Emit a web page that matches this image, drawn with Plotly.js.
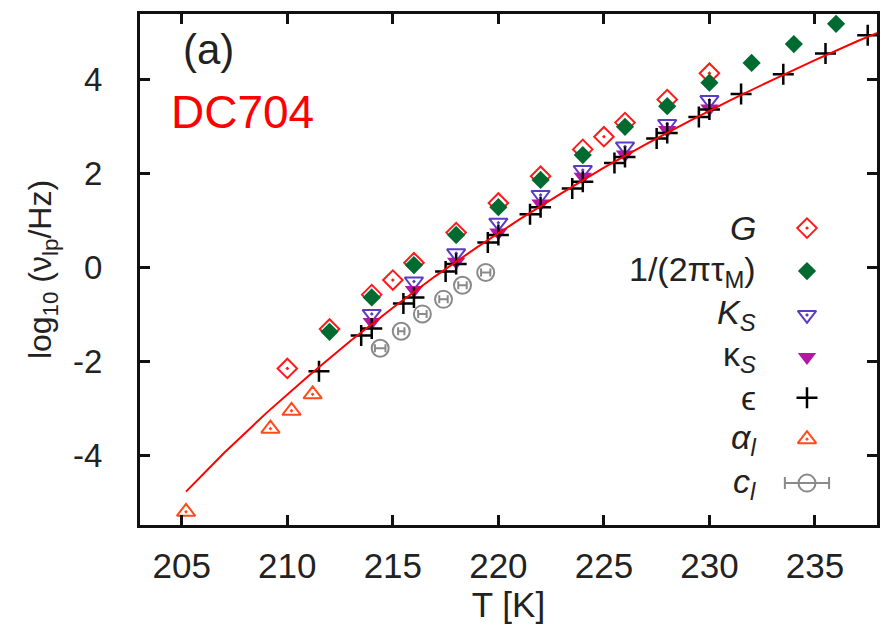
<!DOCTYPE html>
<html>
<head>
<meta charset="utf-8">
<script src="https://cdn.plot.ly/plotly-3.0.1.min.js"></script>
<style>html,body{margin:0;padding:0;background:#fff;}#plot{width:881px;height:628px;}</style>
</head>
<body>
<div id="plot"></div>
<script>
// ---- data ----
const T_G = [210, 212, 214, 215, 216, 218, 220, 222, 224, 225, 226, 228, 230];
const v_G = [-2.15, -1.31, -0.58, -0.27, 0.10, 0.74, 1.37, 1.94, 2.51, 2.78, 3.08, 3.57, 4.13];

const T_tauM = [212, 214, 216, 218, 220, 222, 224, 226, 228, 230, 232, 234, 236];
const v_tauM = [-1.37, -0.64, 0.05, 0.69, 1.28, 1.86, 2.39, 2.99, 3.43, 3.93, 4.35, 4.75, 5.18];

const T_KS = [214, 216, 218, 220, 222, 224, 226, 228, 230];
const v_KS = [-0.99, -0.30, 0.30, 0.95, 1.54, 2.07, 2.57, 3.05, 3.56];

const T_kS = [214, 216, 218, 220, 222, 224, 226, 228, 230];
const v_kS = [-1.16, -0.48, 0.12, 0.74, 1.36, 1.93, 2.40, 2.92, 3.38];

const T_eps = [211.5, 213.5, 214, 215.5, 216, 217.5, 218, 219.5, 220, 221.5, 222, 223.5, 224, 225.5, 226, 227.5, 228, 229.5, 230, 231.5, 233.5, 235.5, 237.5];
const v_eps = [-2.21, -1.45, -1.30, -0.77, -0.64, -0.09, 0.07, 0.53, 0.69, 1.13, 1.28, 1.68, 1.82, 2.22, 2.35, 2.74, 2.86, 3.20, 3.36, 3.69, 4.11, 4.55, 4.94];

const T_alpha = [205.2, 209.2, 210.2, 211.2];
const v_alpha = [-5.20, -3.43, -3.05, -2.70];

const T_c = [214.4, 215.4, 216.4, 217.4, 218.3, 219.4];
const v_c = [-1.72, -1.36, -0.99, -0.68, -0.38, -0.11];
const dT_c = [0.25, 0.15, 0.2, 0.2, 0.2, 0.22];

const T_fit = [205.2, 207, 209, 211, 213, 215, 217, 219, 221, 223, 225, 227, 229, 231, 233, 235, 237, 238.5];
const v_fit = [-4.77, -3.95, -3.10, -2.31, -1.56, -0.86, -0.19, 0.43, 1.02, 1.58, 2.12, 2.62, 3.10, 3.56, 3.99, 4.41, 4.81, 5.09];

const xTicks = [205, 210, 215, 220, 225, 230, 235];
const xTickText = ['205', '210', '215', '220', '225', '230', '235'];
const yTicks = [-4, -2, 0, 2, 4];
const yTickText = ['-4', '-2', '0', '2', '4'];

const legendLabels = ['<i>G</i>', '1/(2πτ<sub>M</sub>)', '<i>K<sub>S</sub></i>', 'κ<sub><i>S</i></sub>', 'ϵ', '<i>α<sub>l</sub></i>', '<i>c<sub>l</sub></i>'];
const legendY = [0.581, 0.497, 0.411, 0.329, 0.249, 0.168, 0.082];

// ---- styles ----
const FONT = 'Liberation Sans, Arial, Helvetica, sans-serif';
const cG = '#ff1a1a', cM = '#006b30', cKS = '#5b3cc4', ckS = '#b01aa0', cE = '#000000', cA = '#ff4a1a', cC = '#8a8a8a';

const styles = [
  {symbol: 'diamond-open-dot', size: 15, color: cG, line: {color: cG, width: 2}},
  {symbol: 'diamond', size: 14, color: cM, line: {width: 0}},
  {symbol: 'triangle-down-open-dot', size: 16, color: cKS, line: {color: cKS, width: 2}},
  {symbol: 'triangle-down', size: 16, color: ckS, line: {width: 0}},
  {symbol: 'cross-thin', size: 15, color: cE, line: {color: cE, width: 2.5}},
  {symbol: 'triangle-up-open-dot', size: 16, color: cA, line: {color: cA, width: 2}},
  {symbol: 'circle-open', size: 17, color: cC, line: {color: cC, width: 2}}
];

const series = [
  [T_G, v_G], [T_tauM, v_tauM], [T_KS, v_KS], [T_kS, v_kS], [T_eps, v_eps], [T_alpha, v_alpha], [T_c, v_c]
];

const traces = [];
series.forEach((s, i) => {
  const tr = {x: s[0], y: s[1], type: 'scatter', mode: 'markers', marker: styles[i], showlegend: false, hoverinfo: 'x+y'};
  if (i === 6) {
    tr.error_x = {type: 'data', array: dT_c, visible: true, color: cC, thickness: 2, width: 4};
  }
  traces.push(tr);
});
traces.push({x: T_fit, y: v_fit, type: 'scatter', mode: 'lines', line: {color: '#ff0000', width: 2}, showlegend: false});

// legend keys on an overlay axis (0..1 of the plot area)
legendLabels.forEach((lab, i) => {
  const tr = {x: [0.905], y: [legendY[i]], xaxis: 'x2', yaxis: 'y2', type: 'scatter', mode: 'markers', marker: styles[i], showlegend: false, hoverinfo: 'skip'};
  if (i === 6) {
    tr.error_x = {type: 'constant', value: 0.030, visible: true, color: cC, thickness: 2, width: 6};
  }
  traces.push(tr);
});

const annotations = legendLabels.map((lab, i) => ({
  xref: 'paper', yref: 'paper', x: 0.8385, y: legendY[i], xanchor: 'right', yanchor: 'middle',
  text: lab, showarrow: false, font: {family: FONT, size: 34, color: '#222'}
}));
annotations.push({xref: 'paper', yref: 'paper', x: 0.093, y: 0.93, xanchor: 'center', yanchor: 'middle', text: '(a)', showarrow: false, font: {family: FONT, size: 42, color: '#222'}});
annotations.push({xref: 'paper', yref: 'paper', x: 0.139, y: 0.808, xanchor: 'center', yanchor: 'middle', text: 'DC704', showarrow: false, font: {family: FONT, size: 46, color: '#ff0000'}});

const axisCommon = {
  showgrid: false, zeroline: false, showline: true, linecolor: '#111', linewidth: 3, mirror: 'ticks',
  ticks: 'inside', ticklen: 10, tickwidth: 3, tickcolor: '#111'
};

const layout = {
  width: 881, height: 628,
  margin: {l: 140, r: 4, t: 14, b: 103, pad: 0},
  paper_bgcolor: '#fff', plot_bgcolor: '#fff',
  font: {family: FONT, color: '#222'},
  xaxis: Object.assign({}, axisCommon, {
    range: [203.02, 237.94], tickmode: 'array', tickvals: xTicks, ticktext: xTickText,
    tickfont: {family: FONT, size: 35, color: '#222'},
    ticklabelstandoff: 8,
    title: {text: 'T [K]', font: {family: FONT, size: 35, color: '#222'}, standoff: 0}
  }),
  yaxis: Object.assign({}, axisCommon, {
    range: [-5.48, 5.39], tickmode: 'array', tickvals: yTicks, ticktext: yTickText,
    tickfont: {family: FONT, size: 33, color: '#222'},
    ticklabelstandoff: 28,
    title: {text: 'log<sub>10</sub> (ν<sub>lp</sub>/Hz)', font: {family: FONT, size: 32, color: '#222'}, standoff: 12}
  }),
  xaxis2: {overlaying: 'x', range: [0, 1], visible: false, fixedrange: true},
  yaxis2: {overlaying: 'y', range: [0, 1], visible: false, fixedrange: true},
  annotations: annotations,
  showlegend: false
};

Plotly.newPlot('plot', traces, layout, {displayModeBar: false, staticPlot: true});
</script>
</body>
</html>
